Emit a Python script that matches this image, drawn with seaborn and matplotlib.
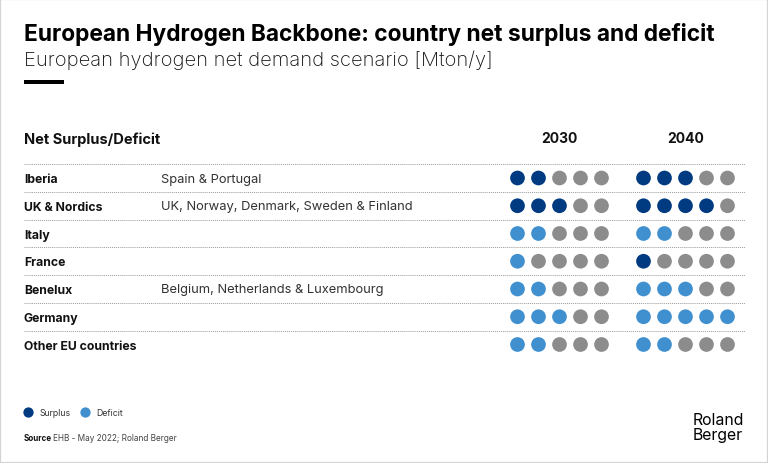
import matplotlib
matplotlib.use("Agg")
import matplotlib.pyplot as plt
from matplotlib.lines import Line2D
from matplotlib.patches import Rectangle
import pandas as pd
import seaborn as sns

regions = ["Iberia", "UK & Nordics", "Italy", "France", "Benelux", "Germany", "Other EU countries"]
details = ["Spain & Portugal", "UK, Norway, Denmark, Sweden & Finland", "", "",
           "Belgium, Netherlands & Luxembourg", "", ""]
years = ["2030", "2040"]
surplus_2030 = [2, 3, 0, 0, 0, 0, 0]
deficit_2030 = [0, 0, 2, 1, 2, 3, 2]
surplus_2040 = [3, 4, 0, 1, 0, 0, 0]
deficit_2040 = [0, 0, 2, 0, 3, 5, 2]
DOTS = 5

title = "European Hydrogen Backbone: country net surplus and deficit"
subtitle = "European hydrogen net demand scenario [Mton/y]"
colors = {"Surplus": "#003A80", "Deficit": "#4090D0", "Neutral": "#8C8C8C"}

rows = []
for year, offset, surplus, deficit in [(years[0], 0, surplus_2030, deficit_2030),
                                       (years[1], 6, surplus_2040, deficit_2040)]:
    for r in range(len(regions)):
        for d in range(DOTS):
            state = "Surplus" if d < surplus[r] else "Deficit" if d < surplus[r] + deficit[r] else "Neutral"
            rows.append({"slot": offset + d, "row": r, "state": state})
df = pd.DataFrame(rows)

sns.set_theme(style="white")
FONT = "Inter"
plt.rcParams["font.family"] = [FONT, "DejaVu Sans"]
W, H = 768, 464
fig = plt.figure(figsize=(W / 100, H / 100), dpi=100, facecolor="white")
ax = fig.add_axes([0, 0, 1, 1])

# one slot = 21 px, one row = 27.75 px
X0, DX, Y0, DY = 517.5, 21.0, 179.0, 27.75
ax.set_xlim(-X0 / DX, (W - X0) / DX)
ax.set_ylim((H - Y0) / DY, -Y0 / DY)
ax.axis("off")

sns.scatterplot(data=df, x="slot", y="row", hue="state", palette=colors, s=112,
                linewidth=0, legend=False, ax=ax, clip_on=False, zorder=3)


def T(px, py, s, **kw):
    kw.setdefault("va", "center")
    kw.setdefault("color", "#111111")
    return fig.text(px / W, 1 - (py + 1.5) / H, s, **kw)


# separators between rows
left = (24 - X0) / DX
right = (745 - X0) / DX
for r in range(len(regions)):
    ax.plot([left, right], [r - 0.5, r - 0.5], color="#999999", lw=0.7,
            ls=(0, (1, 1)), zorder=1)
    T(24, 178.5 + DY * r, regions[r], fontsize=8.8, fontweight="bold")
    if details[r]:
        T(161, 178 + DY * r, details[r], fontsize=9.3, fontweight="normal", color="#333333")

T(24, 33, title, fontsize=16.4, fontweight="bold", color="black")
T(24, 58.5, subtitle, fontsize=14.5, fontweight="light", color="#111111")
T(24, 138, "Net Surplus/Deficit", fontsize=10.5, fontweight="bold")
T(559.5, 138, years[0], fontsize=10, fontweight="bold", ha="center")
T(685.5, 138, years[1], fontsize=10, fontweight="bold", ha="center")

fig.add_artist(Rectangle((24 / W, 1 - 85 / H), 40 / W, 4 / H, transform=fig.transFigure,
                         facecolor="black", edgecolor="none"))

handles = [Line2D([], [], marker="o", ls="", ms=7.4, mew=0, color=colors[k], label=k)
           for k in ("Surplus", "Deficit")]
fig.legend(handles=handles, loc="center left", bbox_to_anchor=(19.5 / W, 1 - 414 / H), frameon=False,
           ncol=2, fontsize=6.3, handletextpad=0.25, columnspacing=0.7, borderpad=0, borderaxespad=0,
           labelcolor="#333333")

T(24, 437, "Source", fontsize=5.8, fontweight="bold")
T(53, 437, "EHB - May 2022; Roland Berger", fontsize=5.9, fontweight="normal", color="#444444")

T(693, 419.5, "Roland", fontsize=11.4, color="black")
T(693, 434.5, "Berger", fontsize=11.4, color="black")

fig.add_artist(Rectangle((0, 0), 1, 1, transform=fig.transFigure, facecolor="none",
                         edgecolor="#d4d4d4", lw=1.6))

fig.savefig("out.png", dpi=100, facecolor="white")
